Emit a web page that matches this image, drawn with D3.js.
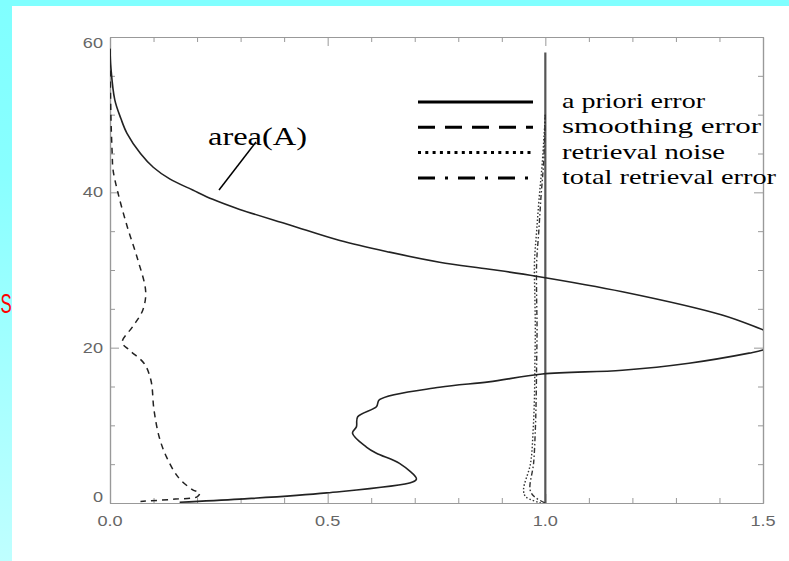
<!DOCTYPE html>
<html>
<head>
<meta charset="utf-8">
<script src="https://cdn.jsdelivr.net/npm/d3@7"></script>
<style>
  body { margin: 0; background: #fff; }
  svg { display: block; }
</style>
</head>
<body>
<div id="container"></div>
<script>
// ---- data (x = error value, y = altitude) ----
var xTicks = [0.0, 0.5, 1.0, 1.5];
var yTicks = [0, 20, 40, 60];

var areaX = [0.0, 0.002, 0.011, 0.025, 0.039, 0.07, 0.1, 0.138, 0.19, 0.236, 0.298, 0.413, 0.528, 0.642, 0.757, 0.872, 0.979, 1.177, 1.406, 1.5, 1.56, 1.5, 1.468, 1.33, 1.177, 0.993, 0.87, 0.757, 0.619, 0.612, 0.569, 0.566, 0.557, 0.589, 0.612, 0.665, 0.704, 0.695, 0.498, 0.298, 0.16];
var areaY = [58.5, 56.1, 51.9, 49.5, 47.6, 45, 43.2, 41.7, 40.3, 39.1, 37.8, 35.8, 33.8, 32.3, 31.0, 30.1, 29.2, 27.2, 24.2, 22.3, 21.0, 19.7, 19.3, 18.0, 17.1, 16.6, 15.6, 14.9, 13.3, 12.4, 11.1, 9.8, 9.0, 7.2, 6.4, 5.1, 3.1, 2.7, 1.3, 0.5, 0.1];

var aprioriX = [1.0, 1.0];
var aprioriY = [0, 58];

var smoothX = [0.0, 0.002, 0.005, 0.007, 0.018, 0.04, 0.064, 0.082, 0.075, 0.052, 0.028, 0.044, 0.078, 0.094, 0.101, 0.113, 0.13, 0.157, 0.19, 0.206, 0.2, 0.15, 0.07];
var smoothY = [58.5, 50, 45, 42.9, 40, 35.5, 31.3, 27.2, 24.8, 22.7, 20.7, 19.7, 18, 15.8, 12, 8.5, 5.9, 3.3, 1.7, 1.3, 0.8, 0.5, 0.2];

var noiseX = [1.0, 0.993, 0.986, 0.98, 0.975, 0.976, 0.977, 0.976, 0.975, 0.972, 0.966, 0.95, 0.955, 0.99];
var noiseY = [50, 43.8, 39.4, 35, 30.9, 26.5, 22.3, 18, 13.6, 9.4, 5.1, 1.7, 0.8, 0];

var totalX = [1.0, 0.996, 0.99, 0.985, 0.98, 0.98, 0.981, 0.98, 0.979, 0.977, 0.973, 0.965, 0.975, 1.0];
var totalY = [50, 43.8, 39.4, 35, 30.9, 26.5, 22.3, 18, 13.6, 9.4, 5.1, 1.7, 0.8, 0];

var legendNames = ['a priori error', 'smoothing error', 'retrieval noise', 'total retrieval error'];

// ---- layout ----
var width = 789, height = 561;
var plot = { left: 110, right: 763, top: 37, bottom: 503 };
var serif = "'Liberation Serif', 'Times New Roman', Times, serif";
var sans = "'Liberation Sans', Arial, Helvetica, sans-serif";

var svg = d3.select('#container').append('svg')
  .attr('width', width)
  .attr('height', height);

// background: cyan frame, lighter towards the bottom on the left
var defs = svg.append('defs');
var grad = defs.append('linearGradient')
  .attr('id', 'strip')
  .attr('x1', 0).attr('y1', 0).attr('x2', 0).attr('y2', 1);
grad.append('stop').attr('offset', '0%').attr('stop-color', '#80ffff');
grad.append('stop').attr('offset', '30%').attr('stop-color', '#88ffff');
grad.append('stop').attr('offset', '100%').attr('stop-color', '#bfffff');

svg.append('rect').attr('width', width).attr('height', height).attr('fill', 'url(#strip)');
svg.append('rect').attr('width', width).attr('height', 6).attr('fill', '#80ffff');

// red letter peeking out in the left strip
svg.append('text')
  .attr('transform', 'translate(0.5,313) scale(0.6,1)')
  .attr('fill', '#ff0000')
  .style('font-family', sans)
  .style('font-size', '28px')
  .text('S');

svg.append('rect')
  .attr('x', 12).attr('y', 6)
  .attr('width', width - 12).attr('height', height - 6)
  .attr('fill', '#fff');

defs.append('clipPath').attr('id', 'plotclip')
  .append('rect')
  .attr('x', plot.left).attr('y', plot.top)
  .attr('width', plot.right - plot.left).attr('height', plot.bottom - plot.top);

// scales
var x = d3.scaleLinear().domain([0, 1.5]).range([plot.left, plot.right]);
var y = d3.scaleLinear().domain([0, 60]).range([plot.bottom, plot.top]);

var axisColor = '#999';
var labelColor = '#666';
var minorX = d3.range(0, 1.51, 0.1).filter(function (v) { return Math.abs(v * 2 - Math.round(v * 2)) > 1e-6; });
var minorY = d3.range(0, 61, 5).filter(function (v) { return v % 20 !== 0; });

function styleAxis(g) {
  g.selectAll('path, line').attr('stroke', axisColor);
  g.select('.domain').attr('stroke-width', 1.2);
}

// major + minor ticks on all four sides, pointing inwards
var axes = svg.append('g');
axes.append('g').attr('transform', `translate(0,${plot.bottom})`)
  .call(d3.axisBottom(x).tickValues(xTicks).tickSize(-9).tickSizeOuter(0).tickFormat(''))
  .call(styleAxis);
axes.append('g').attr('transform', `translate(0,${plot.bottom})`)
  .call(d3.axisBottom(x).tickValues(minorX).tickSize(-5).tickSizeOuter(0).tickFormat(''))
  .call(styleAxis);
axes.append('g').attr('transform', `translate(0,${plot.top})`)
  .call(d3.axisTop(x).tickValues(xTicks).tickSize(-9).tickSizeOuter(0).tickFormat(''))
  .call(styleAxis);
axes.append('g').attr('transform', `translate(0,${plot.top})`)
  .call(d3.axisTop(x).tickValues(minorX).tickSize(-5).tickSizeOuter(0).tickFormat(''))
  .call(styleAxis);
axes.append('g').attr('transform', `translate(${plot.left},0)`)
  .call(d3.axisLeft(y).tickValues(yTicks).tickSize(-9).tickSizeOuter(0).tickFormat(''))
  .call(styleAxis);
axes.append('g').attr('transform', `translate(${plot.left},0)`)
  .call(d3.axisLeft(y).tickValues(minorY).tickSize(-5).tickSizeOuter(0).tickFormat(''))
  .call(styleAxis);
axes.append('g').attr('transform', `translate(${plot.right},0)`)
  .call(d3.axisRight(y).tickValues(yTicks).tickSize(-9).tickSizeOuter(0).tickFormat(''))
  .call(styleAxis);
axes.append('g').attr('transform', `translate(${plot.right},0)`)
  .call(d3.axisRight(y).tickValues(minorY).tickSize(-5).tickSizeOuter(0).tickFormat(''))
  .call(styleAxis);

// tick labels (the original is stretched sideways, so scale the glyphs)
axes.selectAll('.xlab')
  .data(xTicks)
  .join('text')
  .attr('class', 'xlab')
  .attr('transform', d => `translate(${x(d)},${plot.bottom + 23}) scale(1.25,1)`)
  .attr('text-anchor', 'middle')
  .attr('fill', labelColor)
  .style('font-family', sans)
  .style('font-size', '14.5px')
  .text(d3.format('.1f'));

axes.selectAll('.ylab')
  .data(yTicks)
  .join('text')
  .attr('class', 'ylab')
  .attr('transform', d => {
    var yy = Math.min(Math.max(y(d), plot.top + 6), plot.bottom - 6);
    return `translate(${plot.left - 7},${yy + 5}) scale(1.25,1)`;
  })
  .attr('text-anchor', 'end')
  .attr('fill', labelColor)
  .style('font-family', sans)
  .style('font-size', '14.5px')
  .text(d => d);

// ---- curves ----
function pts(xs, ys) {
  return xs.map((v, i) => [v, ys[i]]);
}
var line = d3.line().x(d => x(d[0])).y(d => y(d[1]));
var smoothLine = d3.line().x(d => x(d[0])).y(d => y(d[1])).curve(d3.curveCatmullRom.alpha(0.5));

var curves = svg.append('g').attr('clip-path', 'url(#plotclip)');

curves.append('path')
  .attr('d', line(pts(aprioriX, aprioriY)))
  .attr('fill', 'none')
  .attr('stroke', '#555')
  .attr('stroke-width', 2.2);

curves.append('path')
  .attr('d', smoothLine(pts(noiseX, noiseY)))
  .attr('fill', 'none')
  .attr('stroke', '#333')
  .attr('stroke-width', 1.4)
  .attr('stroke-dasharray', '1.5,2');

curves.append('path')
  .attr('d', smoothLine(pts(totalX, totalY)))
  .attr('fill', 'none')
  .attr('stroke', '#333')
  .attr('stroke-width', 1.4)
  .attr('stroke-dasharray', '5,2.5,1.5,2.5');

curves.append('path')
  .attr('d', smoothLine(pts(smoothX, smoothY)))
  .attr('fill', 'none')
  .attr('stroke', '#222')
  .attr('stroke-width', 1.5)
  .attr('stroke-dasharray', '6,5');

curves.append('path')
  .attr('d', smoothLine(pts(areaX, areaY)))
  .attr('fill', 'none')
  .attr('stroke', '#222')
  .attr('stroke-width', 1.6);

// annotation
svg.append('line')
  .attr('x1', 256).attr('y1', 142)
  .attr('x2', 219).attr('y2', 190)
  .attr('stroke', '#000')
  .attr('stroke-width', 1.5);

svg.append('text')
  .attr('x', 208).attr('y', 145)
  .attr('textLength', 99)
  .attr('lengthAdjust', 'spacingAndGlyphs')
  .style('font-family', serif)
  .style('font-size', '25px')
  .attr('fill', '#000')
  .text('area(A)');

// ---- legend ----
var legendDash = ['none', '17,10', '3,4.3', '17,10,3,10'];
var legendWidths = [143, 199, 163, 214];
var legend = svg.append('g');
legendNames.forEach(function (name, i) {
  var ly = 102 + i * 25.3;
  legend.append('line')
    .attr('x1', 418).attr('x2', 533)
    .attr('y1', ly).attr('y2', ly)
    .attr('stroke', '#000')
    .attr('stroke-width', 3)
    .attr('stroke-dasharray', legendDash[i]);
  legend.append('text')
    .attr('x', 562).attr('y', ly + 6)
    .attr('textLength', legendWidths[i])
    .attr('lengthAdjust', 'spacingAndGlyphs')
    .style('font-family', serif)
    .style('font-size', '22px')
    .attr('fill', '#000')
    .text(name);
});
</script>
</body>
</html>
